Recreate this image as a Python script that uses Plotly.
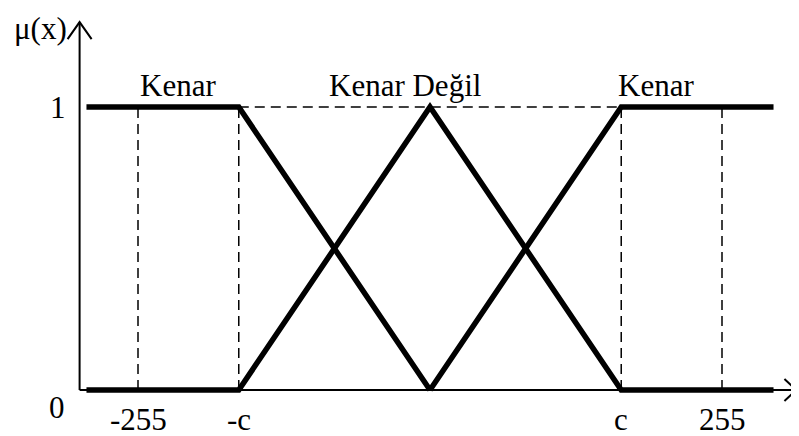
import plotly.graph_objects as go

# ---- data ----
c_value = 167
x_extent = 300
tick_labels = ["-255", "-c", "c", "255"]
tick_values = [-255, -c_value, c_value, 255]

kenar_left_x = [-x_extent, -c_value, 0]
kenar_left_y = [1, 1, 0]
kenar_degil_x = [-x_extent, -c_value, 0, c_value, x_extent]
kenar_degil_y = [0, 0, 1, 0, 0]
kenar_right_x = [0, c_value, x_extent]
kenar_right_y = [0, 1, 1]

set_names = ["Kenar", "Kenar Değil", "Kenar"]
set_label_x = [-220, -22, 197]

# ---- geometry of the schematic axes ----
PAGE_OFF = 8               # default page margin in the browser
W, H = 799 - PAGE_OFF, 436 - PAGE_OFF
k = 292 / 255.0            # px per unit in x
cx = 430 - PAGE_OFF        # px of x=0
x0 = -cx / k
x1 = (W - cx) / k
py = 283.0                 # px per unit in y
cy = 390 - PAGE_OFF        # px of y=0
y0 = -(H - cy) / py
y1 = cy / py

axis_x = -306
x_arrow_tip = 320
y_arrow_tip = 1.30

FONT = dict(family="Liberation Serif, Times New Roman, serif", size=31, color="black")

fig = go.Figure()

thick = dict(color="black", width=5.5)
for xs, ys in [(kenar_left_x, kenar_left_y), (kenar_degil_x, kenar_degil_y), (kenar_right_x, kenar_right_y)]:
    fig.add_trace(go.Scatter(x=xs, y=ys, mode="lines", line=thick, hoverinfo="skip"))

shapes = []
dash = dict(color="black", width=1.5, dash="10px,6px")
shapes.append(dict(type="line", x0=-c_value, x1=c_value, y0=1, y1=1, line=dash, layer="below"))
for tv in tick_values:
    shapes.append(dict(type="line", x0=tv, x1=tv, y0=0, y1=1, line=dash, layer="below"))

axis_line = dict(color="black", width=2)
shapes.append(dict(type="line", x0=axis_x, x1=x_arrow_tip, y0=0, y1=0, line=axis_line))
shapes.append(dict(type="line", x0=axis_x, x1=axis_x, y0=0, y1=y_arrow_tip, line=axis_line))
ax_dx = 12 / k
ax_dy = 11 / py
shapes.append(dict(type="path",
                   path=f"M {x_arrow_tip-ax_dx},{ax_dy} L {x_arrow_tip},0 L {x_arrow_tip-ax_dx},{-ax_dy}",
                   line=axis_line))
ay_dx = 12 / k
ay_dy = 17 / py
shapes.append(dict(type="path",
                   path=f"M {axis_x-ay_dx},{y_arrow_tip-ay_dy} L {axis_x},{y_arrow_tip} L {axis_x+ay_dx},{y_arrow_tip-ay_dy}",
                   line=axis_line))

annotations = []
for tv, tl in zip(tick_values, tick_labels):
    annotations.append(dict(x=tv, y=0, xref="x", yref="y", text=tl, showarrow=False,
                            yanchor="top", yshift=-10, font=FONT))
annotations.append(dict(x=axis_x, y=1, xref="x", yref="y", text="1", showarrow=False,
                        xanchor="right", xshift=-12, font=FONT))
annotations.append(dict(x=axis_x, y=0, xref="x", yref="y", text="0", showarrow=False,
                        xanchor="right", xshift=-13, yanchor="top", yshift=2, font=FONT))
annotations.append(dict(x=axis_x, y=y_arrow_tip, xref="x", yref="y", text="μ(x)", showarrow=False,
                        xanchor="right", xshift=-11, yanchor="middle", yshift=-6, font=FONT))
for nx, nm in zip(set_label_x, set_names):
    annotations.append(dict(x=nx, y=1, xref="x", yref="y", text=nm, showarrow=False,
                            yanchor="bottom", yshift=2, font=FONT))

fig.update_layout(
    width=W, height=H,
    margin=dict(l=0, r=0, t=0, b=0),
    paper_bgcolor="white", plot_bgcolor="white",
    showlegend=False,
    xaxis=dict(range=[x0, x1], visible=False, fixedrange=True),
    yaxis=dict(range=[y0, y1], visible=False, fixedrange=True),
    shapes=shapes,
    annotations=annotations,
)

fig.write_html("out.html", config={"displayModeBar": False})
